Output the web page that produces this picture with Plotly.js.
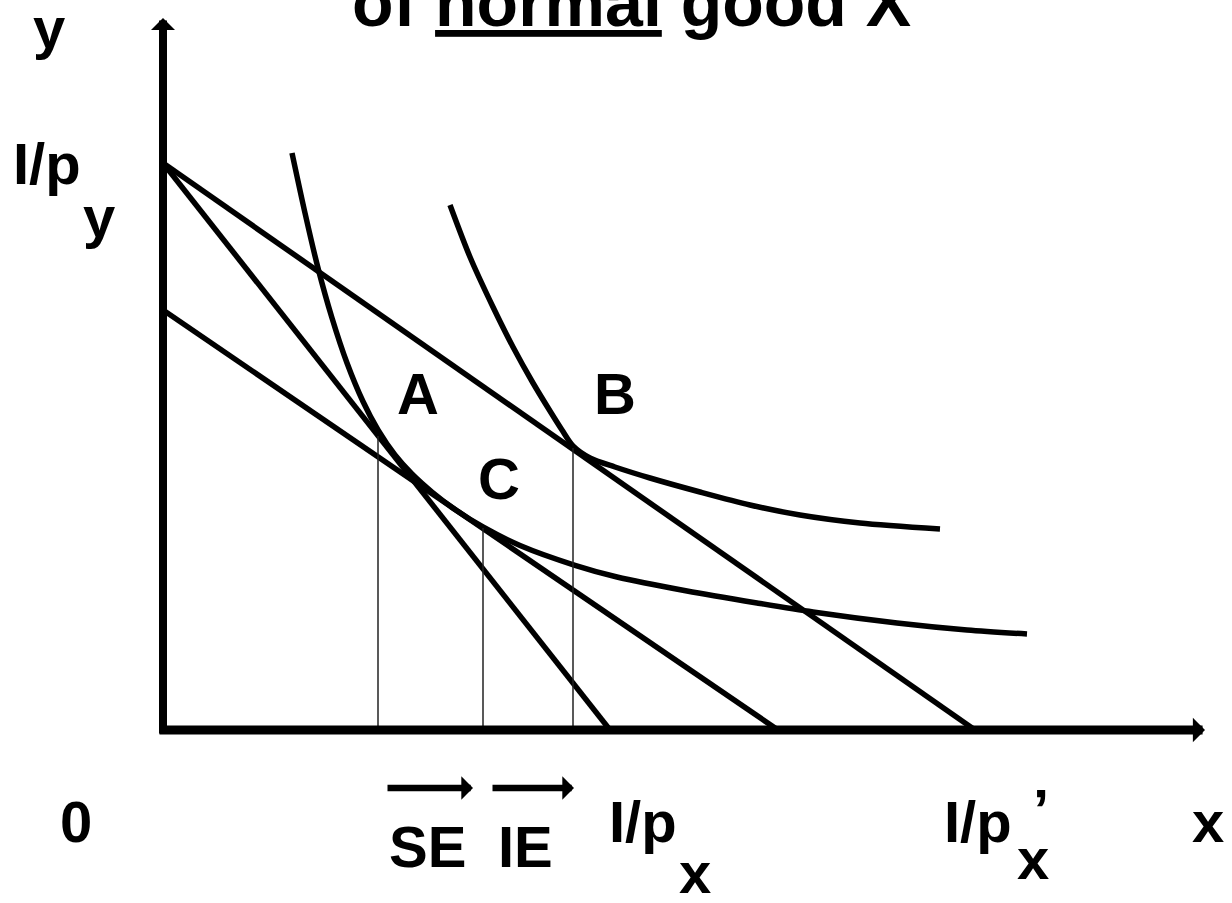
<!DOCTYPE html>
<html>
<head>
<meta charset="utf-8">
<script src="https://cdn.plot.ly/plotly-3.0.1.min.js"></script>
<style>html,body{margin:0;padding:0;background:#fff;}#chart{width:1232px;height:903px;}</style>
</head>
<body>
<div id="chart"></div>
<script>
// ---- data ----
// budget lines: y-intercept -> x-intercept
var budgetOriginal = {x: [0, 4.47], y: [5.67, 0]};   // I/py -> I/px
var budgetNew      = {x: [0, 8.12], y: [5.67, 0]};   // I/py -> I/px'
var budgetComp     = {x: [0, 6.15], y: [4.20, 0]};   // compensated budget line

// indifference curve U1 (through A and C)
var ic1X = [1.29, 1.42, 1.55, 1.69, 1.84, 2.00, 2.15, 2.32, 2.49, 2.69, 2.92, 3.20, 3.57, 4.12, 4.54, 5.24, 5.94, 6.50, 7.34, 8.04, 8.64];
var ic1Y = [5.77, 5.17, 4.62, 4.12, 3.67, 3.285, 3.00, 2.75, 2.56, 2.38, 2.205, 2.03, 1.845, 1.647, 1.53, 1.39, 1.27, 1.18, 1.07, 1.00, 0.96];
// indifference curve U2 (through B)
var ic2X = [2.87, 3.07, 3.30, 3.50, 3.70, 3.87, 3.99, 4.10, 4.27, 4.52, 4.87, 5.37, 5.87, 6.37, 6.97, 7.77];
var ic2Y = [5.25, 4.73, 4.23, 3.83, 3.47, 3.19, 3.00, 2.84, 2.72, 2.63, 2.52, 2.38, 2.25, 2.15, 2.07, 2.01];

// equilibrium points A, C, B
var pointNames = ['A', 'C', 'B'];
var pointX = [2.15, 3.20, 4.10];
var pointY = [2.94, 2.02, 2.82];

// axis extents
var xMax = 10.42, yMax = 7.12;

// ---- traces ----
var traces = [];
function addLine(x, y, w, col, spline) {
  traces.push({type: 'scatter', mode: 'lines', x: x, y: y, hoverinfo: 'skip',
    line: {color: col, width: w, shape: spline ? 'spline' : 'linear', smoothing: 0.8}});
}
addLine(budgetOriginal.x, budgetOriginal.y, 5.5, '#000', false);
addLine(budgetNew.x, budgetNew.y, 5.5, '#000', false);
addLine(budgetComp.x, budgetComp.y, 5.5, '#000', false);
addLine(ic1X, ic1Y, 5.5, '#000', true);
addLine(ic2X, ic2Y, 5.5, '#000', true);
for (var i = 0; i < pointX.length; i++) {
  addLine([pointX[i], pointX[i]], [0, pointY[i]], 1.5, '#222', false);
}

// ---- annotations ----
var F = 'Liberation Sans, Arial, sans-serif';
// labels placed in paper space (they sit outside the axis ranges)
function lab(text, dx, dy, size) {
  return {text: text, x: dx / xMax, y: dy / yMax, xref: 'paper', yref: 'paper', showarrow: false,
    xanchor: 'center', yanchor: 'middle',
    font: {family: F, size: size || 58, color: '#000', weight: 'bold'}};
}
function axisArrow(x0, y0, x1, y1, w, size) {
  return {x: x1, y: y1, ax: x0, ay: y0, xref: 'x', yref: 'y', axref: 'x', ayref: 'y',
    text: '', showarrow: true, arrowhead: 1, arrowsize: size, arrowwidth: w,
    arrowcolor: '#000', standoff: 0, startstandoff: 0};
}
function hArrow(x0, x1, dy, w, size) {
  return {x: x1, y: dy / yMax, ax: x0, ay: 0, xref: 'x', yref: 'paper', axref: 'x', ayref: 'pixel',
    text: '', showarrow: true, arrowhead: 1, arrowsize: size, arrowwidth: w,
    arrowcolor: '#000', standoff: 0, startstandoff: 0};
}
var ann = [];
// axes with arrow heads
ann.push(axisArrow(0, -0.05, 0, yMax, 8, 0.5));
ann.push(axisArrow(-0.05, 0, xMax, 0, 9, 0.45));
// SE and IE arrows
ann.push(hArrow(pointX[0] + 0.08, pointX[1] - 0.10, -0.58, 6.5, 0.6));
ann.push(hArrow(pointX[1] + 0.08, pointX[2] + 0.01, -0.58, 6.5, 0.6));
// point labels
ann.push(lab(pointNames[0], 2.545, 3.365));
ann.push(lab(pointNames[1], 3.36, 2.515));
ann.push(lab(pointNames[2], 4.52, 3.365));
// axis labels
ann.push(lab('y', -1.14, 7.025));
ann.push(lab('I/p', -1.155, 5.665));
ann.push(lab('y', -0.645, 5.135));
ann.push(lab('0', -0.87, -0.91));
ann.push(lab('SE', 2.64, -1.16));
ann.push(lab('IE', 3.625, -1.16));
ann.push(lab('I/p', 4.80, -0.91));
ann.push(lab('x', 5.32, -1.42));
ann.push(lab('I/p', 8.155, -0.91));
ann.push(lab('x', 8.70, -1.285));
ann.push(lab('\u2019', 8.78, -0.795));
ann.push(lab('x', 10.445, -0.915));
// title, cut by the top edge as in the original
ann.push(lab('of <u>normal</u> good X', 4.685, 7.283, 68));

var layout = {
  width: 1232, height: 903,
  margin: {l: 163, r: 27, t: 18, b: 173, pad: 0},
  paper_bgcolor: '#fff', plot_bgcolor: '#fff',
  showlegend: false,
  xaxis: {range: [0, xMax], visible: false, fixedrange: true},
  yaxis: {range: [0, yMax], visible: false, fixedrange: true},
  annotations: ann
};
Plotly.newPlot('chart', traces, layout, {staticPlot: true});
</script>
</body>
</html>
